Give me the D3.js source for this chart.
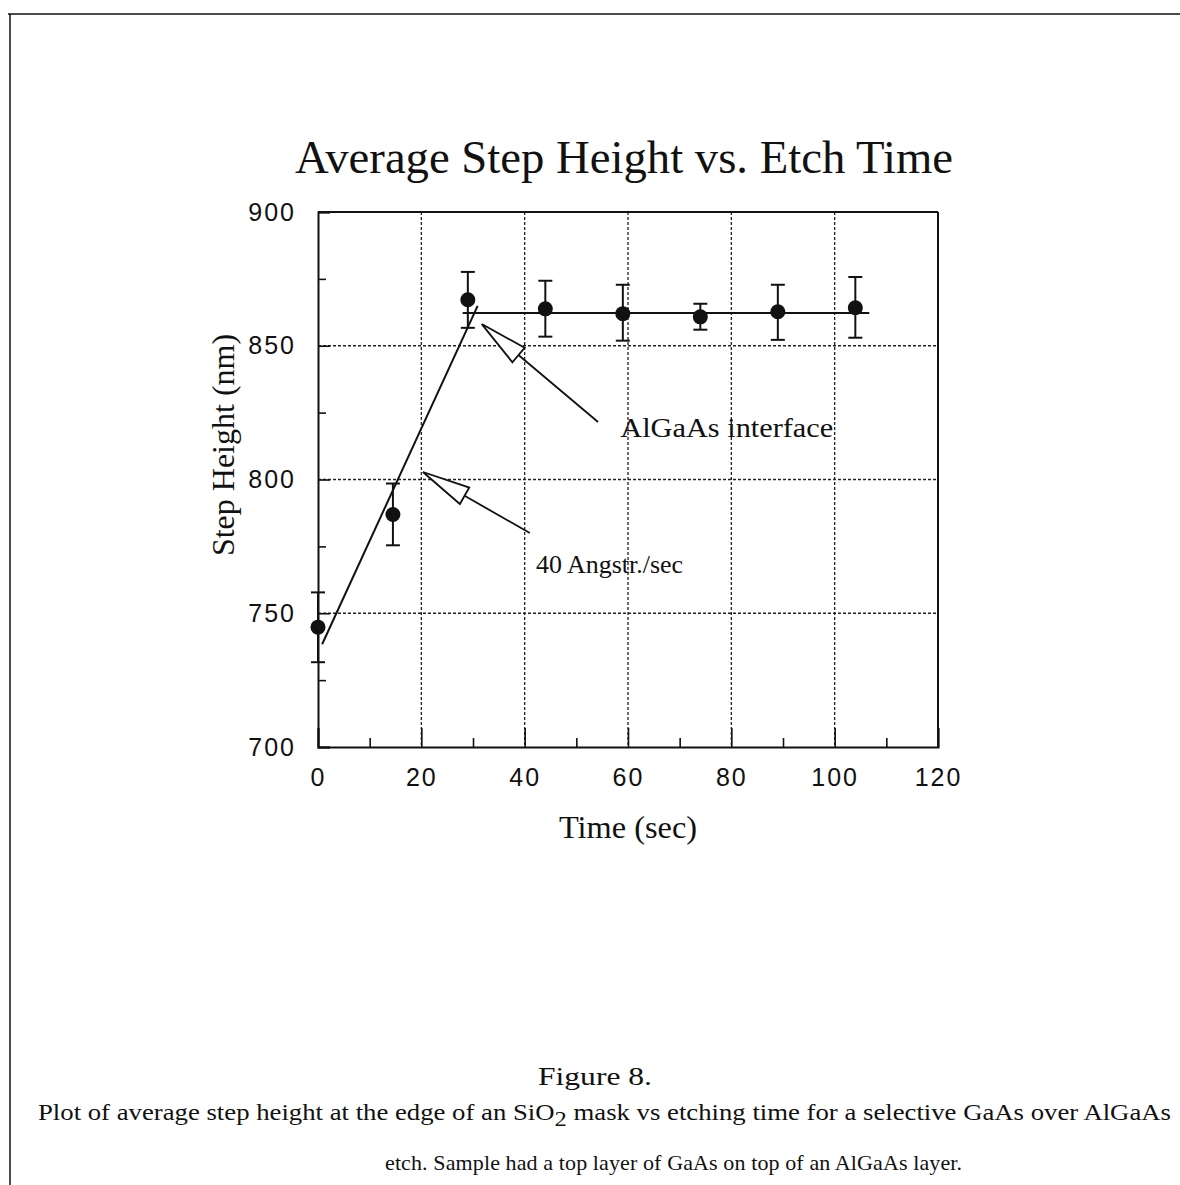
<!DOCTYPE html>
<html>
<head>
<meta charset="utf-8">
<script src="https://cdn.jsdelivr.net/npm/d3@7"></script>
<style>
  body { margin: 0; background: #fff; }
  svg { display: block; }
</style>
</head>
<body>
<div id="chart"></div>
<script>
// values
const times = [0, 14.5, 29, 44, 59, 74, 89, 104];
const heights = [744.8, 786.9, 867.2, 863.8, 862.0, 860.8, 862.7, 864.2];
const errHigh = [757.8, 798.5, 877.6, 874.3, 872.8, 865.7, 872.8, 875.7];
const errLow = [731.7, 775.4, 856.7, 853.4, 851.9, 856.0, 852.2, 853.0];

// hand drawn fit lines
const rampFit = [[0.8, 738.4], [30.9, 864.9]];
const plateauFit = [[28, 862.2], [106.7, 862.2]];

const xTicks = [0, 20, 40, 60, 80, 100, 120];
const xMinor = [10, 30, 50, 70, 90, 110];
const yTicks = [700, 750, 800, 850, 900];
const yMinor = [725, 775, 825, 875];

// annotation arrows: tip and tail in data units
const notes = [
  { label: "AlGaAs interface", tip: [31.7, 858.1], tail: [54.2, 821.5], at: [58.5, 815.9], size: 28, len: 213 },
  { label: "40 Angstr./sec", tip: [20.3, 802.8], tail: [41.0, 780.0], at: [42.2, 765.0], size: 25, len: 147 }
];

const width = 1180, height = 1185;
const serif = "'Liberation Serif', 'Times New Roman', serif";

const svg = d3.select("#chart").append("svg")
  .attr("width", width)
  .attr("height", height);

// page frame of the scan
svg.append("line").attr("x1", 8).attr("y1", 14).attr("x2", 1180).attr("y2", 14)
  .attr("stroke", "#111").attr("stroke-width", 1.5);
svg.append("line").attr("x1", 10).attr("y1", 14).attr("x2", 10).attr("y2", 1185)
  .attr("stroke", "#111").attr("stroke-width", 1.5);

const x = d3.scaleLinear().domain([0, 120]).range([318, 938]);
const y = d3.scaleLinear().domain([700, 900]).range([747, 212]);

// grid
const grid = svg.append("g")
  .attr("stroke", "#222")
  .attr("stroke-width", 1.3)
  .attr("stroke-dasharray", "3,2");
grid.selectAll("line.v")
  .data(xTicks.slice(1, -1))
  .enter().append("line")
  .attr("class", "v")
  .attr("x1", d => x(d)).attr("x2", d => x(d))
  .attr("y1", y(900)).attr("y2", y(700));
grid.selectAll("line.h")
  .data(yTicks.slice(1, -1))
  .enter().append("line")
  .attr("class", "h")
  .attr("x1", x(0)).attr("x2", x(120))
  .attr("y1", d => y(d)).attr("y2", d => y(d));

// axes, ticks pointing inwards
const xAxis = svg.append("g")
  .attr("transform", `translate(0,${y(700)})`)
  .call(d3.axisBottom(x).tickValues(xTicks).tickSize(-19).tickPadding(34).tickFormat(d3.format("d")));
svg.append("g")
  .attr("transform", `translate(0,${y(700)})`)
  .call(d3.axisBottom(x).tickValues(xMinor).tickSize(-9).tickFormat(""))
  .select(".domain").remove();

svg.append("g")
  .attr("transform", `translate(${x(0)},0)`)
  .call(d3.axisLeft(y).tickValues(yTicks).tickSize(-12).tickPadding(22).tickFormat(d3.format("d")));
svg.append("g")
  .attr("transform", `translate(${x(0)},0)`)
  .call(d3.axisLeft(y).tickValues(yMinor).tickSize(-8).tickFormat(""))
  .select(".domain").remove();

svg.selectAll(".tick line").attr("stroke", "#111").attr("stroke-width", 1.6);
svg.selectAll(".domain").attr("stroke", "#111").attr("stroke-width", 2);
svg.selectAll(".tick text")
  .attr("fill", "#111")
  .style("font-family", "'Liberation Sans', Arial, sans-serif")
  .style("font-size", "25px")
  .style("letter-spacing", "2px");
xAxis.selectAll(".tick text").attr("dy", "0.2em");

// right and top frame
svg.append("line").attr("x1", x(0)).attr("y1", y(900)).attr("x2", x(120)).attr("y2", y(900))
  .attr("stroke", "#111").attr("stroke-width", 2);
svg.append("line").attr("x1", x(120)).attr("y1", y(900)).attr("x2", x(120)).attr("y2", y(700))
  .attr("stroke", "#111").attr("stroke-width", 2);

// fit lines
const line = d3.line().x(d => x(d[0])).y(d => y(d[1]));
svg.selectAll("path.fit")
  .data([rampFit, plateauFit])
  .enter().append("path")
  .attr("class", "fit")
  .attr("d", line)
  .attr("fill", "none")
  .attr("stroke", "#111")
  .attr("stroke-width", 2);

// error bars
const pts = times.map((t, i) => ({ t, h: heights[i], hi: errHigh[i], lo: errLow[i] }));
const bars = svg.append("g").attr("stroke", "#111").attr("stroke-width", 2);
bars.selectAll("line.stem").data(pts).enter().append("line")
  .attr("x1", d => x(d.t)).attr("x2", d => x(d.t))
  .attr("y1", d => y(d.hi)).attr("y2", d => y(d.lo));
bars.selectAll("line.capHi").data(pts).enter().append("line")
  .attr("x1", d => x(d.t) - 7).attr("x2", d => x(d.t) + 7)
  .attr("y1", d => y(d.hi)).attr("y2", d => y(d.hi));
bars.selectAll("line.capLo").data(pts).enter().append("line")
  .attr("x1", d => x(d.t) - 7).attr("x2", d => x(d.t) + 7)
  .attr("y1", d => y(d.lo)).attr("y2", d => y(d.lo));

svg.selectAll("circle.pt").data(pts).enter().append("circle")
  .attr("class", "pt")
  .attr("cx", d => x(d.t))
  .attr("cy", d => y(d.h))
  .attr("r", 7.5)
  .attr("fill", "#111");

// hollow arrows
notes.forEach(n => {
  const tx = x(n.tip[0]), ty = y(n.tip[1]);
  const ex = x(n.tail[0]), ey = y(n.tail[1]);
  const ang = Math.atan2(ey - ty, ex - tx);
  const headLen = 48, half = 9.5;
  const bx = tx + headLen * Math.cos(ang), by = ty + headLen * Math.sin(ang);
  const px = -Math.sin(ang) * half, py = Math.cos(ang) * half;
  svg.append("path")
    .attr("d", `M${tx},${ty}L${bx + px},${by + py}L${bx - px},${by - py}Z`)
    .attr("fill", "#fff")
    .attr("stroke", "#111")
    .attr("stroke-width", 1.8);
  svg.append("line")
    .attr("x1", bx).attr("y1", by).attr("x2", ex).attr("y2", ey)
    .attr("stroke", "#111").attr("stroke-width", 1.8);
  svg.append("text")
    .attr("x", x(n.at[0]))
    .attr("y", y(n.at[1]))
    .attr("textLength", n.len)
    .attr("lengthAdjust", "spacingAndGlyphs")
    .style("font-family", serif)
    .style("font-size", n.size + "px")
    .attr("fill", "#111")
    .text(n.label);
});

// titles
svg.append("text")
  .attr("x", 295).attr("y", 173)
  .attr("textLength", 658)
  .attr("lengthAdjust", "spacingAndGlyphs")
  .style("font-family", serif)
  .style("font-size", "46px")
  .attr("fill", "#111")
  .text("Average Step Height vs. Etch Time");

svg.append("text")
  .attr("x", 628).attr("y", 838)
  .attr("text-anchor", "middle")
  .attr("textLength", 138)
  .attr("lengthAdjust", "spacingAndGlyphs")
  .style("font-family", serif)
  .style("font-size", "32px")
  .attr("fill", "#111")
  .text("Time (sec)");

svg.append("text")
  .attr("transform", "translate(234,445) rotate(-90)")
  .attr("text-anchor", "middle")
  .style("font-family", serif)
  .style("font-size", "32px")
  .attr("fill", "#111")
  .text("Step Height (nm)");

// caption
const cap = svg.append("g")
  .style("font-family", serif)
  .style("font-size", "24px")
  .attr("fill", "#111");
cap.append("text").attr("x", 538).attr("y", 1085)
  .attr("textLength", 114).attr("lengthAdjust", "spacingAndGlyphs")
  .style("font-size", "25px")
  .text("Figure 8.");
const l2 = cap.append("text").attr("x", 38).attr("y", 1120)
  .attr("textLength", 1133).attr("lengthAdjust", "spacingAndGlyphs");
l2.append("tspan").text("Plot of average step height at the edge of an SiO");
l2.append("tspan").attr("dy", 6).style("font-size", "22px").text("2");
l2.append("tspan").attr("dy", -6).text(" mask vs etching time for a selective GaAs over AlGaAs");
cap.append("text").attr("x", 385).attr("y", 1170)
  .attr("textLength", 577).attr("lengthAdjust", "spacing")
  .style("font-size", "22px")
  .text("etch.  Sample had a top layer of GaAs on top of an AlGaAs layer.");
</script>
</body>
</html>
